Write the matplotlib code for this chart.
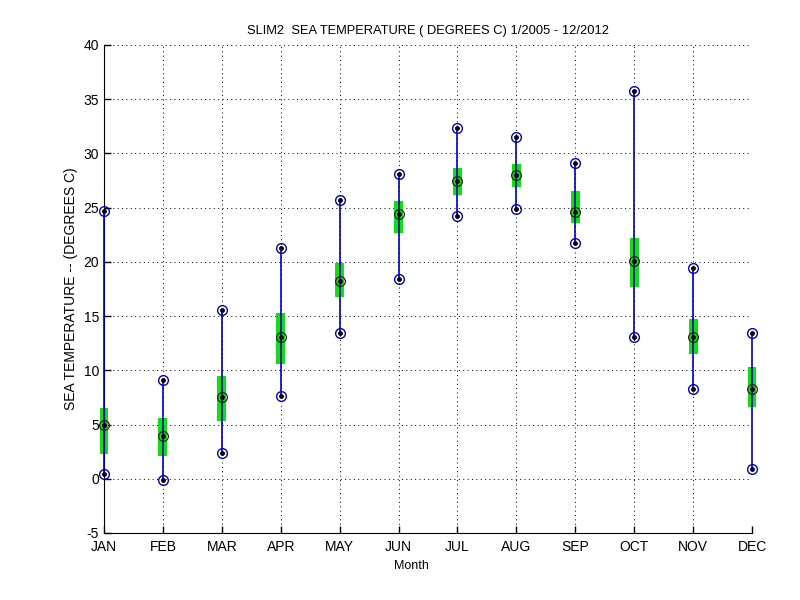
import matplotlib
matplotlib.use("Agg")
import matplotlib.pyplot as plt

plt.rcParams['font.family'] = ['Liberation Sans', 'DejaVu Sans']
plt.rcParams['axes.unicode_minus'] = False

months = ['JAN', 'FEB', 'MAR', 'APR', 'MAY', 'JUN', 'JUL', 'AUG', 'SEP', 'OCT', 'NOV', 'DEC']
t_max = [24.7, 9.1, 15.6, 21.3, 25.7, 28.1, 32.3, 31.5, 29.1, 35.8, 19.4, 13.4]
t_mean = [5.0, 3.9, 7.5, 13.1, 18.2, 24.4, 27.45, 28.0, 24.6, 20.1, 13.1, 8.3]
t_min = [0.4, -0.1, 2.4, 7.6, 13.4, 18.4, 24.25, 24.9, 21.7, 13.1, 8.3, 0.9]
box_hi = [6.5, 5.6, 9.5, 15.3, 19.9, 25.6, 28.7, 29.05, 26.5, 22.2, 14.75, 10.3]
box_lo = [2.3, 2.1, 5.3, 10.6, 16.8, 22.7, 26.2, 26.9, 23.6, 17.7, 11.5, 6.6]

x = list(range(1, 13))

fig = plt.figure(figsize=(8, 6), dpi=100)
ax = fig.add_axes([0.13, 0.1117, 0.81, 0.8133])

# green boxes
heights = [h - l for h, l in zip(box_hi, box_lo)]
bars = ax.bar(x, heights, bottom=box_lo, width=0.15, color='#10e010', linewidth=0, zorder=2)
for b in bars:
    b.set_clip_on(False)

# min-max lines
ax.vlines(x, t_min, t_max, color='#0000c0', linewidth=1.2, zorder=3, clip_on=False)

# extremes
for vals in (t_max, t_min):
    ax.plot(x, vals, 'o', mfc='none', mec='#0000c0', ms=7, mew=1.0, zorder=4, clip_on=False)
    ax.plot(x, vals, '.', color='black', ms=5, zorder=5, clip_on=False)

# mean
ax.plot(x, t_mean, 'o', mfc='none', mec='#202020', ms=7, mew=0.9, zorder=4, clip_on=False)
ax.plot(x, t_mean, '.', color='black', ms=5, zorder=5, clip_on=False)

ax.set_xlim(1, 12)
ax.set_ylim(-5, 40)
ax.set_xticks(x)
ax.set_xticklabels(months)
ax.set_yticks(range(-5, 41, 5))
ax.tick_params(direction='in', length=5, labelsize=10, width=1)
ax.tick_params(axis='x', pad=5)
ax.grid(True, linestyle=(0, (1, 3.5)), color='black', linewidth=0.7)
ax.set_axisbelow(True)
for s in ('top', 'right'):
    ax.spines[s].set_visible(False)

ax.set_title('SLIM2  SEA TEMPERATURE ( DEGREES C) 1/2005 - 12/2012', fontsize=9.3, pad=8)
ax.set_xlabel('Month', fontsize=9)
ax.xaxis.set_label_coords(0.475, -0.056)
ax.set_ylabel('SEA TEMPERATURE -- (DEGREES C)', fontsize=10)

fig.savefig('out.png', dpi=100)
